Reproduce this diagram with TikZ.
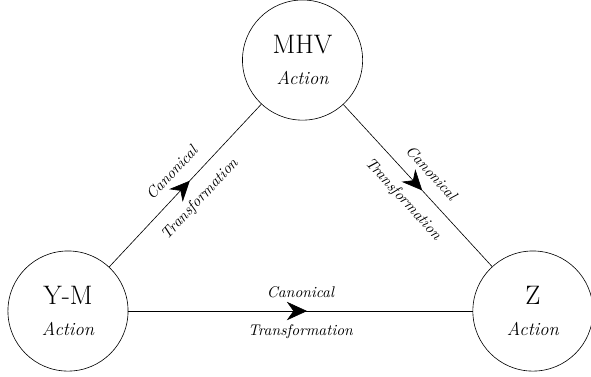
\documentclass[tikz,border=0pt]{standalone}
\usetikzlibrary{arrows.meta,decorations.markings}

\begin{document}
\begin{tikzpicture}[
        action/.style={circle, draw, minimum size=2.73cm, inner sep=0pt, align=center},
        transf/.style={postaction={decorate}, decoration={markings,
            mark=at position 0.5 with {\arrow[xshift=1.5mm]{Stealth[length=4.6mm,width=4.2mm]}}}},
        lbl/.style={font=\itshape, sloped}
    ]
        \useasboundingbox (0,0) rectangle (13.43,8.545);

        % the three actions
        \node[action] (mhv) at (6.875,7.18) {{\LARGE MHV}\\[8pt]{\large\itshape Action}};
        \node[action] (ym) at (1.545,1.477) {{\LARGE Y-M}\\[8pt]{\large\itshape Action}};
        \node[action] (z) at (12.11,1.477) {{\LARGE Z}\\[8pt]{\large\itshape Action}};

        % the canonical transformations between them
        \draw[transf] (ym) -- node[lbl, above=5pt] {Canonical} node[lbl, below=5pt] {Transformation} (mhv);
        \draw[transf] (mhv) -- node[lbl, above=5pt] {Canonical} node[lbl, below=5pt] {Transformation} (z);
        \draw[transf] (ym) -- node[lbl, above=5pt] {Canonical} node[lbl, below=5pt] {Transformation} (z);

\end{tikzpicture}
\end{document}
